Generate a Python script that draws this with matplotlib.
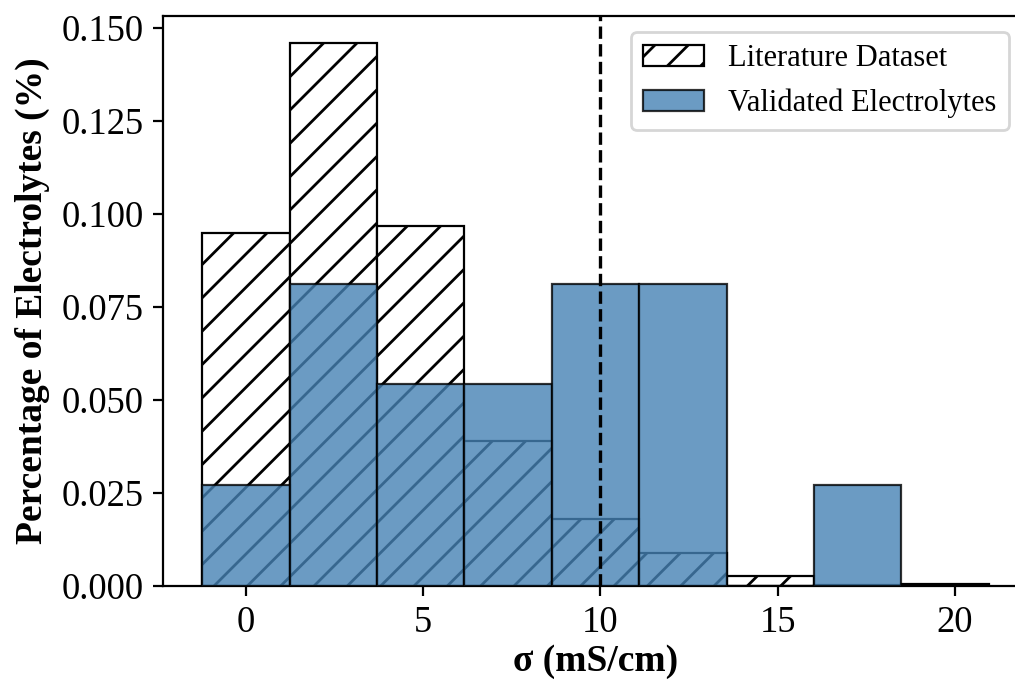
import matplotlib
matplotlib.use("Agg")
import matplotlib.pyplot as plt
from matplotlib.patches import Patch

# ---- data ----
bin_edges = [-1.22, 1.243, 3.706, 6.169, 8.632, 11.095, 13.558, 16.021, 18.484, 20.947]
literature_density = [0.0949, 0.1458, 0.0967, 0.0390, 0.0180, 0.0089, 0.0027, 0.0003, 0.0005]
validated_density = [0.0271, 0.0812, 0.0542, 0.0542, 0.0812, 0.0812, 0.0, 0.0271, 0.0]
threshold = 10
x_ticks = [0, 5, 10, 15, 20]
y_ticks = [0.000, 0.025, 0.050, 0.075, 0.100, 0.125, 0.150]
labels = ["Literature Dataset", "Validated Electrolytes"]

plt.rcParams['font.family'] = ['Liberation Serif', 'DejaVu Serif']
plt.rcParams['hatch.linewidth'] = 1.0

fig = plt.figure(figsize=(5.075, 3.405), dpi=200)
ax = fig.add_axes([163/1015, 95/681, 865/1015, 570/681])

lefts = bin_edges[:-1]
widths = [bin_edges[i+1] - bin_edges[i] for i in range(len(lefts))]

ax.bar(lefts, literature_density, width=widths, align='edge',
       facecolor='white', edgecolor='black', hatch='//', linewidth=0.8, zorder=2)
ax.bar(lefts, validated_density, width=widths, align='edge',
       color='steelblue', alpha=0.8, edgecolor='black', linewidth=0.8, zorder=3)
ax.axvline(threshold, color='black', linestyle='--', linewidth=1.2, zorder=4)

ax.set_xticks(x_ticks)
ax.set_yticks(y_ticks)
ax.tick_params(labelsize=13.2)
ax.set_xlabel('σ (mS/cm)', fontsize=13.5, fontweight='bold', labelpad=1.5)
ax.set_ylabel('Percentage of Electrolytes (%)', fontsize=13.5, fontweight='bold')

handles = [Patch(facecolor='white', edgecolor='black', hatch='//', linewidth=0.8),
           Patch(facecolor='steelblue', alpha=0.8, edgecolor='black', linewidth=0.8)]
fig.legend(handles, labels, loc='upper right', bbox_to_anchor=(1009/1015, (681-32)/681),
           borderaxespad=0, fontsize=11)

fig.savefig('out.png', dpi=200)
